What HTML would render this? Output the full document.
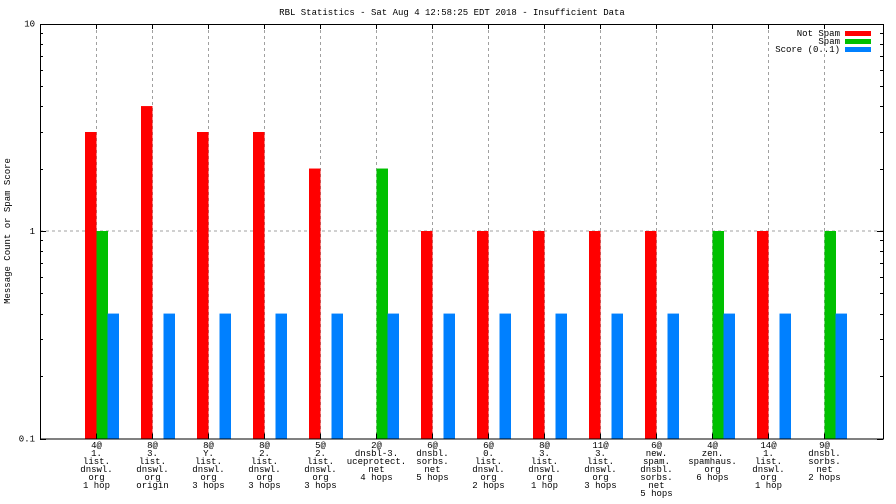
<!DOCTYPE html>
<html><head><meta charset="utf-8"><style>
body{margin:0;background:#fff}
svg{display:block;font-family:"Liberation Mono","DejaVu Sans Mono",monospace}
text{font-size:9px;fill:#000}
</style></head><body>
<svg id="chart" width="896" height="504" viewBox="0 0 896 504" xmlns="http://www.w3.org/2000/svg">
<text x="452" y="15" text-anchor="middle">RBL Statistics - Sat Aug  4 12:58:25 EDT 2018 - Insufficient Data</text>
<text transform="translate(10,231) rotate(-90)" text-anchor="middle">Message Count or Spam Score</text>
<g id="grid"></g><g id="bars"></g><g id="axes"></g><g id="labels"></g>
<g>
<text x="840" y="36" text-anchor="end">Not Spam</text>
<rect x="845" y="31" width="26" height="5" fill="#ff0000"/>
<text x="840" y="44" text-anchor="end">Spam</text>
<rect x="845" y="39" width="26" height="5" fill="#00c000"/>
<text x="840" y="52" text-anchor="end">Score (0..1)</text>
<rect x="845" y="47" width="26" height="5" fill="#0080ff"/>
</g>
</svg>
<script>
const categories=[
["4@","1.","list.","dnswl.","org","1 hop"],
["8@","3.","list.","dnswl.","org","origin"],
["8@","Y.","list.","dnswl.","org","3 hops"],
["8@","2.","list.","dnswl.","org","3 hops"],
["5@","2.","list.","dnswl.","org","3 hops"],
["2@","dnsbl-3.","uceprotect.","net","4 hops"],
["6@","dnsbl.","sorbs.","net","5 hops"],
["6@","0.","list.","dnswl.","org","2 hops"],
["8@","3.","list.","dnswl.","org","1 hop"],
["11@","3.","list.","dnswl.","org","3 hops"],
["6@","new.","spam.","dnsbl.","sorbs.","net","5 hops"],
["4@","zen.","spamhaus.","org","6 hops"],
["14@","1.","list.","dnswl.","org","1 hop"],
["9@","dnsbl.","sorbs.","net","2 hops"]];
const notSpam=[3,4,3,3,2,0,1,1,1,1,1,0,1,0];
const spam=[1,0,0,0,0,2,0,0,0,0,0,1,0,1];
const score=[0.4,0.4,0.4,0.4,0.4,0.4,0.4,0.4,0.4,0.4,0.4,0.4,0.4,0.4];
const yTicks=[0.1,1,10];
const yTickLabels=["0.1","1","10"];

const NS="http://www.w3.org/2000/svg";
const L=40,R=883,T=24,B=438.5;
const y=v=>231-Math.log10(v)*207.5;
const xc=i=>96.5+56*i;
function mk(tag,attrs,parent){const e=document.createElementNS(NS,tag);for(const k in attrs)e.setAttribute(k,attrs[k]);document.getElementById(parent).appendChild(e);return e;}
// grid
categories.forEach((c,i)=>{const g=mk('line',{x1:xc(i),x2:xc(i),y1:T,y2:B,stroke:'#a0a0a0','stroke-dasharray':'3,3'},'grid');

});
yTicks.forEach(v=>{if(v>0.1&&v<10){const g=mk('line',{x1:L,x2:R,y1:y(v),y2:y(v),stroke:'#a0a0a0','stroke-dasharray':'3,3'},'grid');

}});
// bars
const series=[[notSpam,'#ff0000',-11.5,'bar-not-spam'],[spam,'#00c000',0,'bar-spam'],[score,'#0080ff',11,'bar-score']];
categories.forEach((c,i)=>{series.forEach(s=>{const v=s[0][i];if(v>0){const b=mk('rect',{x:xc(i)+s[2],y:y(v),width:11.5,height:B-y(v),fill:s[1]},'bars');

}});});
// axes frame
const f=mk('rect',{x:L+0.5,y:T+0.5,width:R-L,height:B-T,fill:'none',stroke:'#000'},'axes');


yTicks.forEach((v,k)=>{const t=mk('text',{x:35,y:y(v)+3,'text-anchor':'end'},'axes');t.textContent=yTickLabels[k];

});
for(let d=0.1;d<10;d*=10){for(let m=1;m<=9;m++){const v=d*m;const yy=Math.round(y(v))+0.5;const len=m===1?6:3;
const a=mk('line',{x1:L,x2:L+len,y1:yy,y2:yy,stroke:'#000'},'axes');


const b=mk('line',{x1:R-len,x2:R,y1:yy,y2:yy,stroke:'#000'},'axes');

}}
categories.forEach((c,i)=>{const t=mk('line',{x1:xc(i),x2:xc(i),y1:T,y2:T+5,stroke:'#000'},'axes');


const tb=mk('line',{x1:xc(i),x2:xc(i),y1:B-5,y2:B,stroke:'#000'},'axes');


c.forEach((ln,j)=>{const tx=mk('text',{x:xc(i),y:448+8*j,'text-anchor':'middle'},'labels');tx.textContent=ln;

});});
</script>
</body></html>
